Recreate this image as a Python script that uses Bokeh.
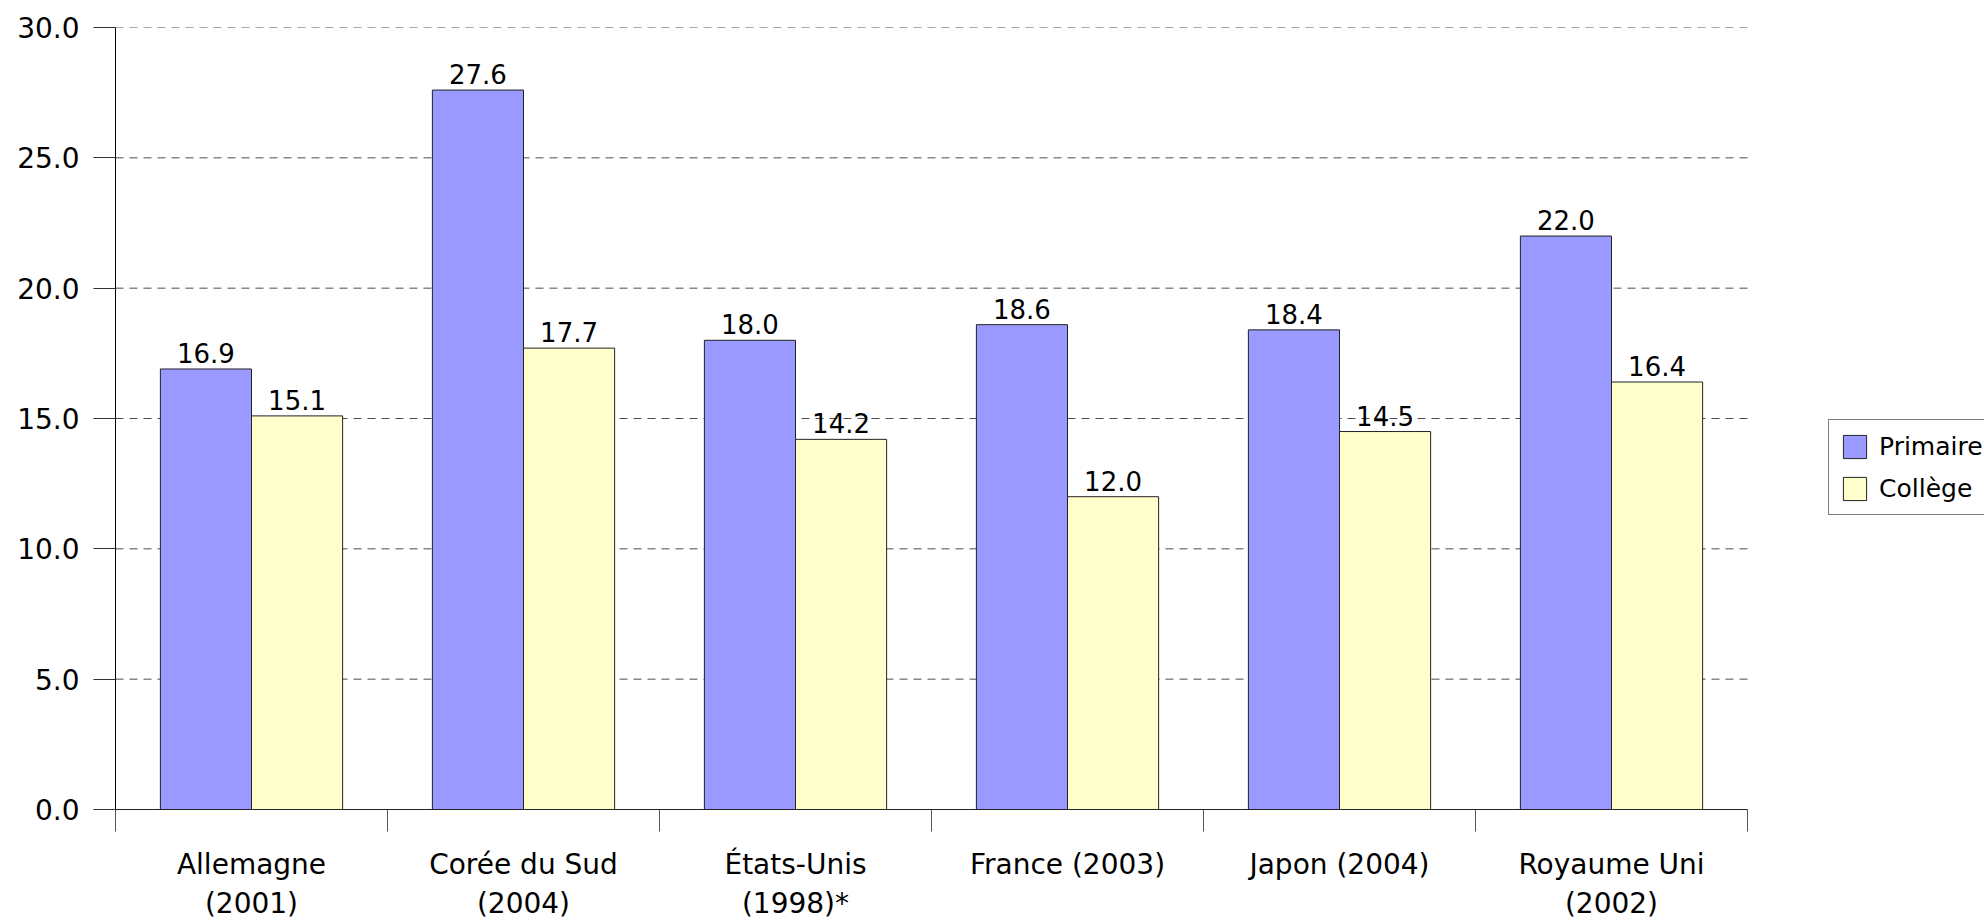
from bokeh.plotting import figure
from bokeh.models import (Range1d, FixedTicker, PrintfTickFormatter, ColumnDataSource,
                          LinearAxis, Legend, LegendItem)
from bokeh.embed import file_html
from bokeh.resources import INLINE
from bokeh.core.properties import value

categories = ["Allemagne\n(2001)", "Corée du Sud\n(2004)", "États-Unis\n(1998)*",
              "France (2003)", "Japon (2004)", "Royaume Uni\n(2002)"]
primaire = [16.9, 27.6, 18.0, 18.6, 18.4, 22.0]
college = [15.1, 17.7, 14.2, 12.0, 14.5, 16.4]
series_names = ["Primaire", "Collège"]
y_ticks = [0, 5, 10, 15, 20, 25, 30]

n = len(categories)
idx = list(range(n))
half = 0.1675
x_p = [i + 0.5 - half for i in idx]
x_c = [i + 0.5 + half for i in idx]

FONT = "DejaVu Sans"

# layout (pixels)
W, H = 1984, 923
LEFT, TOP, BOTTOM = 115, 27, 114
PLOT_RIGHT = 1747  # where the category axis ends
x_end = n * (W - LEFT) / (PLOT_RIGHT - LEFT)

p = figure(width=W, height=H, output_backend="svg", toolbar_location=None,
           x_range=Range1d(0, x_end), y_range=Range1d(0, 30),
           min_border_left=LEFT, min_border_right=0, min_border_top=TOP, min_border_bottom=BOTTOM,
           x_axis_location=None)
p.outline_line_color = None
p.background_fill_color = "white"
p.border_fill_color = "white"
p.xgrid.grid_line_color = None
p.ygrid.grid_line_color = None

# dashed horizontal grid lines spanning the categories only
p.segment(x0=[0] * len(y_ticks), x1=[n] * len(y_ticks), y0=y_ticks, y1=y_ticks,
          line_color="#4d4d4d", line_dash="8 6", line_width=1)

src_p = ColumnDataSource(dict(x=x_p, top=primaire, lab=[f"{v:.1f}" for v in primaire]))
src_c = ColumnDataSource(dict(x=x_c, top=college, lab=[f"{v:.1f}" for v in college]))

r_p = p.vbar(x="x", top="top", width=2 * half, bottom=0, source=src_p, fill_color="#9999ff",
             line_color="#222222", line_width=1)
r_c = p.vbar(x="x", top="top", width=2 * half, bottom=0, source=src_c, fill_color="#ffffcc",
             line_color="#222222", line_width=1)

for s in (src_p, src_c):
    p.text(x="x", y="top", text="lab", source=s, text_align="center", text_baseline="bottom",
           y_offset=-6, text_font=value(FONT), text_font_size="26px", text_color="black")

# y axis
p.yaxis.ticker = FixedTicker(ticks=y_ticks)
p.yaxis.formatter = PrintfTickFormatter(format="%.1f")
p.yaxis.major_label_text_font = FONT
p.yaxis.major_label_text_font_size = "28px"
p.yaxis.major_label_text_color = "black"
p.yaxis.major_tick_out = 22
p.yaxis.major_tick_in = 0
p.yaxis.minor_tick_line_color = None
p.yaxis.major_label_standoff = 14
p.yaxis.axis_line_color = "black"
p.yaxis.major_tick_line_color = "#333333"

# x axis: labels at centres, boundary ticks as minor ticks
xa = LinearAxis(bounds=(0, n))
xa.ticker = FixedTicker(ticks=[i + 0.5 for i in idx], minor_ticks=list(range(n + 1)))
xa.major_label_overrides = {i + 0.5: c for i, c in zip(idx, categories)}
xa.major_tick_out = 0
xa.major_tick_in = 0
xa.minor_tick_out = 22
xa.minor_tick_in = 0
xa.minor_tick_line_color = "#555555"
xa.axis_line_color = "#222222"
xa.major_label_text_font = FONT
xa.major_label_text_font_size = "28px"
xa.major_label_text_color = "black"
xa.major_label_standoff = 16
p.add_layout(xa, "below")

lg = Legend(items=[LegendItem(label=series_names[0], renderers=[r_p]),
                   LegendItem(label=series_names[1], renderers=[r_c])])
lg.location = (1828 - LEFT, 294)
lg.label_text_font = FONT
lg.label_text_font_size = "25px"
lg.label_text_color = "black"
lg.glyph_width = 29
lg.glyph_height = 29
lg.label_height = 30
lg.spacing = 12
lg.padding = 11
lg.margin = 0
lg.label_standoff = 10
lg.border_line_color = "black"
lg.border_line_width = 1
lg.background_fill_alpha = 1
p.add_layout(lg, "center")

open("out.html", "w").write(file_html(p, INLINE))
